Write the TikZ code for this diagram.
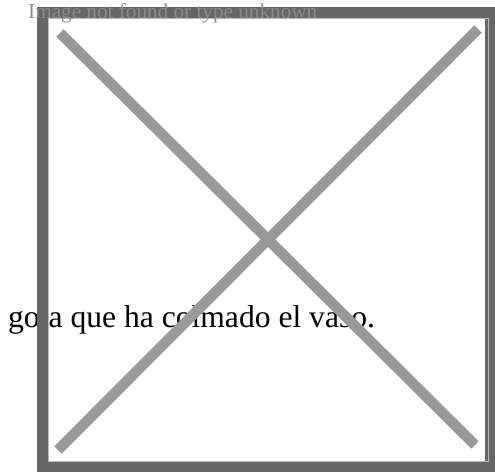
\documentclass[tikz,border=0pt]{standalone}
\usepackage{fontspec}
\setmainfont{Liberation Serif}
\definecolor{framegray}{HTML}{666666}
\definecolor{xgray}{HTML}{999999}
\definecolor{labelgray}{HTML}{8C8C8C}
\begin{document}
\begin{tikzpicture}[x=1pt,y=-1pt,
  framestyle/.style={draw=framegray,line width=11pt},
  edgestyle/.style={draw=xgray!70,line width=0.8pt},
  xline/.style={draw=xgray,line width=10.5pt},
  captext/.style={font=\fontsize{31.6}{36}\selectfont,text=black,inner sep=0pt,anchor=base west},
  errtext/.style={font=\fontsize{21.2}{24}\selectfont,text=labelgray,inner sep=0pt,anchor=base west}]
\useasboundingbox (0,0) rectangle (495,476);
\node[captext] (cap) at (8,327) {gota que ha colmado el vaso.};
\path[framestyle] (42.5,12.5) rectangle (490.5,466.5);
\path[edgestyle] (48,18) rectangle (488,461);
\coordinate (tl) at (60,33);
\coordinate (br) at (475,445);
\coordinate (bl) at (58,450);
\coordinate (tr) at (478,29);
\path[xline] (tl) -- (br);
\path[xline] (bl) -- (tr);
\node[errtext] (err) at (28,19) {Image not found or type unknown};
\end{tikzpicture}
\end{document}
